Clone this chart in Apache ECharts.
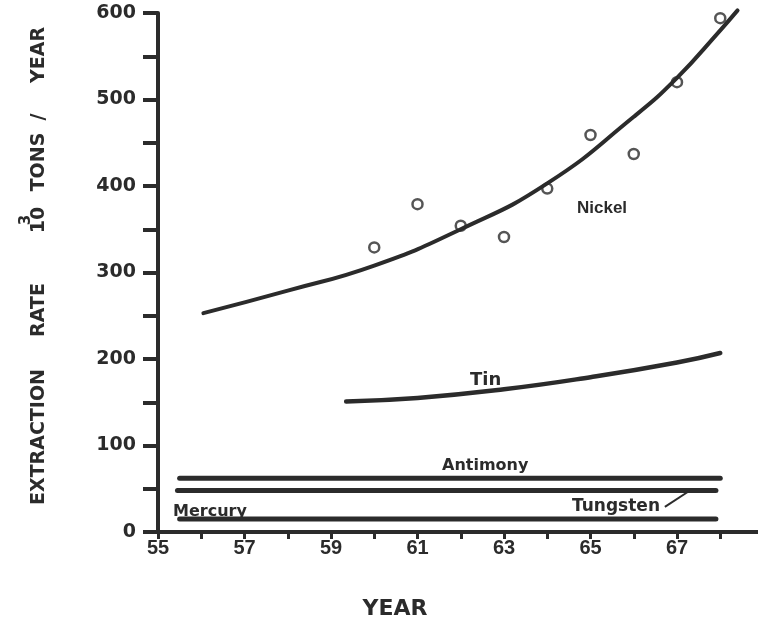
<!DOCTYPE html>
<html>
<head>
<meta charset="utf-8">
<script src="https://cdn.jsdelivr.net/npm/echarts@6/dist/echarts.min.js"></script>
<style>
html,body{margin:0;padding:0;background:#fff;}
#chart{width:758px;height:625px;}
</style>
</head>
<body>
<div id="chart"></div>
<script>
// ---- data ----
const nickelCurveYears  = [56.05, 58, 60, 62, 64, 66, 67, 68, 68.4];
const nickelCurveValues = [253, 279, 308, 350, 403, 480, 525, 580, 603];
const nickelObsYears    = [60, 61, 62, 63, 64, 65, 66, 67, 68];
const nickelObsValues   = [329, 379, 354, 341, 397, 459, 437, 520, 594];
const tinYears          = [59.35, 61, 63, 65, 67, 68];
const tinValues         = [151, 155, 165, 179, 196, 207];
const antimonyYears     = [55.5, 68.0];
const antimonyValues    = [62, 62];
const tungstenYears     = [55.45, 67.9];
const tungstenValues    = [48, 48];
const mercuryYears      = [55.5, 67.9];
const mercuryValues     = [15, 15];
const tungstenLeader    = [[66.72, 29], [67.3, 48]];
const xLabelYears       = [55, 57, 59, 61, 63, 65, 67];
const yLabelValues      = [0, 100, 200, 300, 400, 500, 600];

const INK = '#2b2b2b';
const pairs = (xs, ys) => xs.map((x, i) => [x, ys[i]]);

const chart = echarts.init(document.getElementById('chart'), null, {renderer: 'canvas'});

const lineSeries = (name, xs, ys, width, smooth) => ({
  name, type: 'line', data: pairs(xs, ys), smooth: smooth,
  showSymbol: false, symbol: 'none', silent: true, clip: false,
  lineStyle: {color: INK, width: width, cap: 'round', join: 'round'},
  z: 3
});

const option = {
  backgroundColor: '#ffffff',
  animation: false,
  grid: {left: 158, top: 13, width: 605.5, bottom: 93, containLabel: false, outerBoundsMode: 'none'},
  xAxis: {
    type: 'value', min: 55, max: 69, interval: 1,
    axisLine: {show: true, lineStyle: {color: INK, width: 4}},
    axisTick: {show: true, inside: false, length: 7, lineStyle: {color: INK, width: 3}},
    splitLine: {show: false},
    axisLabel: {
      margin: 6, color: INK, fontFamily: 'Liberation Sans', fontWeight: 'bold', fontSize: 20,
      formatter: v => xLabelYears.indexOf(v) >= 0 ? String(v) : ''
    }
  },
  yAxis: {
    type: 'value', min: 0, max: 600, interval: 50,
    axisLine: {show: true, lineStyle: {color: INK, width: 4}},
    axisTick: {show: true, inside: false, length: 15, lineStyle: {color: INK, width: 4}},
    splitLine: {show: false},
    axisLabel: {
      margin: 22, color: INK, fontFamily: 'DejaVu Sans', fontWeight: 'bold', fontSize: 19,
      formatter: v => yLabelValues.indexOf(v) >= 0 ? String(v) : ''
    }
  },
  series: [
    lineSeries('Nickel', nickelCurveYears, nickelCurveValues, 4, 0.5),
    {
      name: 'Nickel observed', type: 'scatter', data: pairs(nickelObsYears, nickelObsValues),
      symbol: 'circle', symbolSize: 10, silent: true,
      itemStyle: {color: 'rgba(255,255,255,0)', borderColor: INK, borderWidth: 2.5},
      z: 4
    },
    lineSeries('Tin', tinYears, tinValues, 4.5, 0.5),
    lineSeries('Antimony', antimonyYears, antimonyValues, 5, false),
    Object.assign(lineSeries('Tungsten', tungstenYears, tungstenValues, 5, false), {
      markLine: {
        silent: true, symbol: ['none', 'none'],
        lineStyle: {color: INK, width: 2, type: 'solid'},
        label: {show: false},
        data: [[{coord: tungstenLeader[0]}, {coord: tungstenLeader[1]}]]
      }
    }),
    lineSeries('Mercury', mercuryYears, mercuryValues, 5, false)
  ],
  graphic: [
    // y-axis title (rotated)
    {type: 'text', x: 39, y: 437, rotation: Math.PI / 2,
     style: {text: 'EXTRACTION', fill: INK, font: 'bold 19px "DejaVu Sans"', textAlign: 'center', textVerticalAlign: 'middle'}},
    {type: 'text', x: 39, y: 310, rotation: Math.PI / 2,
     style: {text: 'RATE', fill: INK, font: 'bold 19px "DejaVu Sans"', textAlign: 'center', textVerticalAlign: 'middle'}},
    {type: 'text', x: 39, y: 220, rotation: Math.PI / 2,
     style: {text: '10', fill: INK, font: 'bold 19px "DejaVu Sans"', textAlign: 'center', textVerticalAlign: 'middle'}},
    {type: 'text', x: 26, y: 220, rotation: Math.PI / 2,
     style: {text: '3', fill: INK, font: 'bold 15px "DejaVu Sans"', textAlign: 'center', textVerticalAlign: 'middle'}},
    {type: 'text', x: 39, y: 162, rotation: Math.PI / 2,
     style: {text: 'TONS', fill: INK, font: 'bold 19px "DejaVu Sans"', textAlign: 'center', textVerticalAlign: 'middle'}},
    {type: 'text', x: 39, y: 117, rotation: Math.PI / 2,
     style: {text: '/', fill: INK, font: 'bold 19px "DejaVu Sans"', textAlign: 'center', textVerticalAlign: 'middle'}},
    {type: 'text', x: 39, y: 55, rotation: Math.PI / 2,
     style: {text: 'YEAR', fill: INK, font: 'bold 19px "DejaVu Sans"', textAlign: 'center', textVerticalAlign: 'middle'}},
    // x-axis title
    {type: 'text', x: 395, y: 609,
     style: {text: 'YEAR', fill: INK, font: 'bold 22px "DejaVu Sans"', textAlign: 'center', textVerticalAlign: 'middle'}},
    // series labels
    {type: 'text', x: 577, y: 208,
     style: {text: 'Nickel', fill: INK, font: 'bold 17px "Liberation Sans"', textAlign: 'left', textVerticalAlign: 'middle'}},
    {type: 'text', x: 470, y: 380,
     style: {text: 'Tin', fill: INK, font: 'bold 18px "DejaVu Sans"', textAlign: 'left', textVerticalAlign: 'middle'}},
    {type: 'text', x: 442, y: 466,
     style: {text: 'Antimony', fill: INK, font: 'bold 16px "DejaVu Sans"', textAlign: 'left', textVerticalAlign: 'middle'}},
    {type: 'text', x: 572, y: 507,
     style: {text: 'Tungsten', fill: INK, font: 'bold 17px "DejaVu Sans"', textAlign: 'left', textVerticalAlign: 'middle'}},
    {type: 'text', x: 173, y: 512,
     style: {text: 'Mercury', fill: INK, font: 'bold 16px "DejaVu Sans"', textAlign: 'left', textVerticalAlign: 'middle'}}
  ]
};
chart.setOption(option);
</script>
</body>
</html>
